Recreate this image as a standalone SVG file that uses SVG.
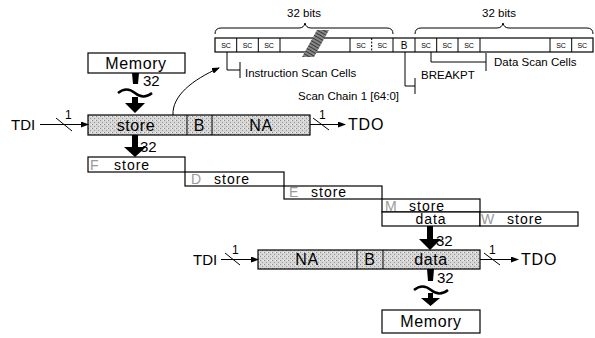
<svg xmlns="http://www.w3.org/2000/svg" width="595" height="338" viewBox="0 0 595 338">
<style>
text{font-family:"Liberation Sans",Arial,sans-serif;fill:#000}
.big{font-size:16px;letter-spacing:0.6px}
.pb{font-size:14px;letter-spacing:1px}
.lbl{font-size:15px}
.tdo{font-size:16px;letter-spacing:0.8px}
.sm{font-size:11.5px}
.sc{font-size:7px;text-anchor:middle}
.ghost{fill:#9a9a9a}
.box{fill:#fff;stroke:#000;stroke-width:1.2}
.reg{fill:url(#stip);stroke:#000;stroke-width:1.2}
.thin{fill:none;stroke:#000;stroke-width:1}
.mid{text-anchor:middle}
.thick{fill:#000;stroke:none}
.tilde{fill:none;stroke:#000;stroke-width:2.5}
</style>
<defs>
<pattern id="stip" width="4" height="4" patternUnits="userSpaceOnUse">
<rect width="4" height="4" fill="#d6d6d6"/>
<rect x="0" y="0" width="1" height="1" fill="#8a8a8a"/>
<rect x="2" y="2" width="1" height="1" fill="#9a9a9a"/>
<rect x="3" y="0" width="1" height="1" fill="#f0f0f0"/>
</pattern>
<pattern id="hatch" width="3" height="3" patternUnits="userSpaceOnUse" patternTransform="rotate(-60)">
<rect width="3" height="3" fill="#888"/>
<line x1="0" y1="0" x2="0" y2="3" stroke="#222" stroke-width="1.6"/>
</pattern>
<marker id="ah" markerWidth="8" markerHeight="6" refX="7" refY="3" orient="auto" markerUnits="userSpaceOnUse">
<path d="M0,0 L8,3 L0,6 Z" fill="#000"/>
</marker>
</defs>

<g id="scan-chain">
<text class="sm mid" x="304" y="17">32 bits</text>
<text class="sm mid" x="499" y="17">32 bits</text>
<path class="thin" d="M215,34 Q215,28 221,28 L299,28 Q304,28 305,23 Q306,28 311,28 L387,28 Q393,28 393,34"/>
<path class="thin" d="M415,34 Q415,28 421,28 L497,28 Q502,28 503,23 Q504,28 509,28 L587,28 Q593,28 593,34"/>
<rect class="box" x="215" y="38" width="378" height="14"/>
<g class="thin">
<line x1="236.7" y1="38" x2="236.7" y2="52"/>
<line x1="258.3" y1="38" x2="258.3" y2="52"/>
<line x1="280" y1="38" x2="280" y2="52"/>
<line x1="350" y1="38" x2="350" y2="52"/>
<line x1="371.7" y1="38" x2="371.7" y2="52" stroke-dasharray="2,1.5"/>
<line x1="393" y1="38" x2="393" y2="52"/>
<line x1="415" y1="38" x2="415" y2="52"/>
<line x1="436.7" y1="38" x2="436.7" y2="52"/>
<line x1="458" y1="38" x2="458" y2="52"/>
<line x1="480" y1="38" x2="480" y2="52"/>
<line x1="550" y1="38" x2="550" y2="52"/>
<line x1="571.7" y1="38" x2="571.7" y2="52"/>
</g>
<polygon points="317,30 329,30 314,57 302,57" fill="url(#hatch)"/>
<g class="sc">
<text x="226" y="48">SC</text><text x="247.5" y="48">SC</text><text x="269" y="48">SC</text>
<text x="361" y="48">SC</text><text x="382.3" y="48">SC</text>
<text x="426" y="48">SC</text><text x="447.3" y="48">SC</text><text x="469" y="48">SC</text>
<text x="561" y="48">SC</text><text x="582.3" y="48">SC</text>
</g>
<text x="404" y="49" font-size="10" text-anchor="middle">B</text>
<path class="thin" d="M227,52 V70 H240 M240,62 V78"/>
<text class="sm" x="245" y="77">Instruction Scan Cells</text>
<path class="thin" d="M405,52 V86 H415 M415,78 V94"/>
<text class="sm" x="421" y="79">BREAKPT</text>
<path class="thin" d="M431,52 V62 H486 M486,53 V71"/>
<text class="sm" x="494" y="66">Data Scan Cells</text>
<text class="sm" x="298" y="100">Scan Chain 1 [64:0]</text>
</g>

<g id="memory-in">
<rect class="box" x="88" y="53" width="97" height="20"/>
<text class="big mid" x="136" y="69">Memory</text>
</g>

<g id="register-1">
<rect class="reg" x="88" y="115" width="222" height="20"/>
<line class="thin" x1="187" y1="115" x2="187" y2="135"/>
<line class="thin" x1="212" y1="115" x2="212" y2="135"/>
<text class="big mid" x="136" y="131">store</text>
<text class="big mid" x="199.5" y="131">B</text>
<text class="big mid" x="261" y="131">NA</text>
</g>

<g id="pipe-F">
<rect class="box" x="88" y="157" width="97" height="15"/>
<text class="pb ghost" x="90" y="169.5">F</text>
<text class="pb" x="114" y="169.5">store</text>
</g>
<g id="pipe-D">
<rect class="box" x="185" y="172" width="99" height="14"/>
<text class="pb ghost" x="191" y="183.5">D</text>
<text class="pb" x="214" y="183.5">store</text>
</g>
<g id="pipe-E">
<rect class="box" x="284" y="186" width="98" height="13"/>
<text class="pb ghost" x="289" y="197">E</text>
<text class="pb" x="311" y="197">store</text>
</g>
<g id="pipe-M">
<rect class="box" x="382" y="199" width="98" height="13"/>
<text class="pb ghost" x="385" y="210.5">M</text>
<text class="pb" x="409" y="210.5">store</text>
</g>
<g id="pipe-data">
<rect class="box" x="382" y="212" width="98" height="14"/>
<text class="pb mid" x="431" y="224">data</text>
</g>
<g id="pipe-W">
<rect class="box" x="480" y="212" width="98" height="14"/>
<text class="pb ghost" x="481" y="224">W</text>
<text class="pb" x="507" y="224">store</text>
</g>

<g id="register-2">
<rect class="reg" x="258" y="250" width="222" height="19"/>
<line class="thin" x1="357" y1="250" x2="357" y2="269"/>
<line class="thin" x1="383" y1="250" x2="383" y2="269"/>
<text class="big mid" x="307" y="265">NA</text>
<text class="big mid" x="370" y="265">B</text>
<text class="big mid" x="431" y="265">data</text>
</g>

<g id="memory-out">
<rect class="box" x="382" y="310" width="98" height="23"/>
<text class="big mid" x="431" y="327">Memory</text>
</g>

<g id="io-labels">
<text class="lbl" x="11" y="130">TDI</text>
<text class="tdo" x="348" y="130">TDO</text>
<text class="lbl" x="193" y="265">TDI</text>
<text class="tdo" x="521" y="265">TDO</text>
</g>

<g id="connectors">
<line class="thin" x1="40" y1="124.5" x2="88" y2="124.5" marker-end="url(#ah)"/>
<line class="thin" x1="56" y1="118" x2="72" y2="131"/>
<text x="65" y="119" font-size="12">1</text>
<line class="thin" x1="310" y1="124.5" x2="345" y2="124.5" marker-end="url(#ah)"/>
<line class="thin" x1="313" y1="118" x2="329" y2="130"/>
<text x="319" y="119" font-size="12">1</text>
<line class="thin" x1="221" y1="259.5" x2="258" y2="259.5" marker-end="url(#ah)"/>
<line class="thin" x1="225" y1="253" x2="240" y2="265"/>
<text x="232" y="254" font-size="12">1</text>
<line class="thin" x1="480" y1="259.5" x2="518" y2="259.5" marker-end="url(#ah)"/>
<line class="thin" x1="484" y1="253" x2="500" y2="265"/>
<text x="489" y="254" font-size="12">1</text>
<path class="thick" d="M132,73 H139 L138,84 H133 Z"/>
<text class="lbl" x="143" y="86">32</text>
<path class="tilde" d="M118,93 q8.5,-7 17,0 t17,0"/>
<path class="thick" d="M132,97 H138 V103 H145 L135,113 L125,103 H132 Z"/>
<path class="thick" d="M132,135 H138 V147 H146 L135,157 L124,147 H132 Z"/>
<text class="lbl" x="140" y="152">32</text>
<path class="thin" d="M173,115 C172,96 192,80 219,68" marker-end="url(#ah)"/>
<path class="thick" d="M427,226 H433 V239 H441 L430,250 L419,239 H427 Z"/>
<text class="lbl" x="436" y="246">32</text>
<path class="thick" d="M427,269 H434 L433,281 H428 Z"/>
<text class="lbl" x="437" y="283">32</text>
<path class="tilde" d="M414,290 q8.5,-7 17,0 t17,0"/>
<path class="thick" d="M428,293 H433 V298 H440 L430.5,306 L421,298 H428 Z"/>
</g>
</svg>
